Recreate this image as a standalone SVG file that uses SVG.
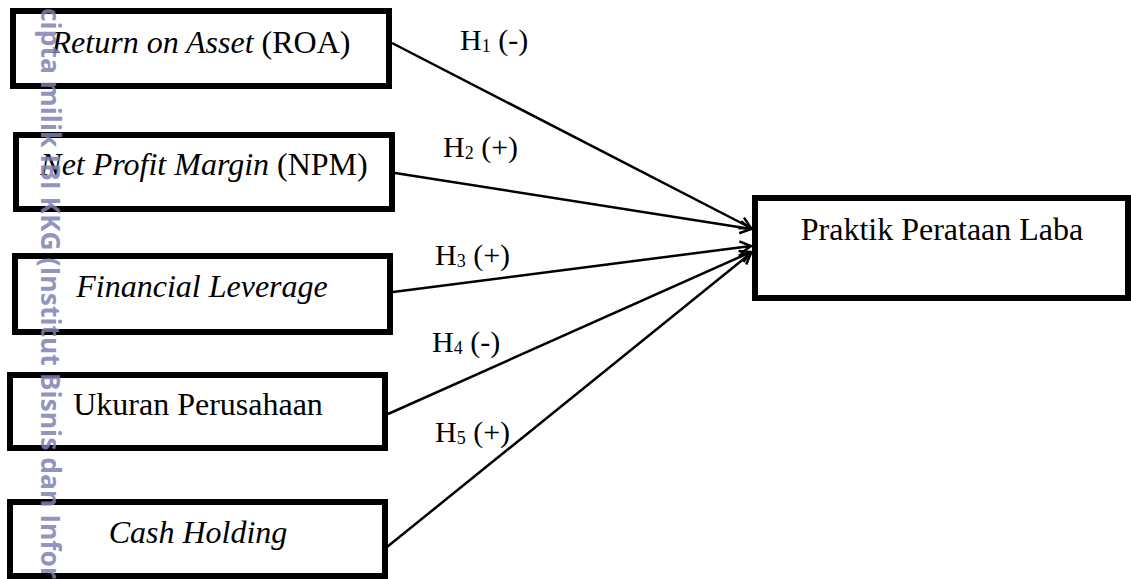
<svg xmlns="http://www.w3.org/2000/svg" width="1131" height="579" viewBox="0 0 1131 579">
  <style>
    .box { fill: #ffffff; stroke: #000000; stroke-width: 6; }
    .lbl { font-family: "Liberation Serif", "Times New Roman", serif; font-size: 32px; fill: #000000; text-anchor: middle; }
    .hyp { font-family: "Liberation Serif", "Times New Roman", serif; font-size: 30px; fill: #000000; }
    .sub { font-size: 18px; }
    .it { font-style: italic; }
    .conn { stroke: #000000; stroke-width: 2.5; fill: none; marker-end: url(#arrow); }
    .wm { font-family: "Open Sans", "DejaVu Sans", sans-serif; font-weight: 700; font-size: 26px; fill: #8080b4; fill-opacity: 0.85; }
  </style>
  <defs>
    <marker id="arrow" markerUnits="userSpaceOnUse" markerWidth="16" markerHeight="16" refX="12" refY="7" orient="auto" viewBox="0 0 16 14">
      <path d="M1,1 L12,7 L1,13" fill="none" stroke="#000000" stroke-width="2.5"/>
    </marker>
  </defs>
  <rect width="1131" height="579" fill="#ffffff"/>

  <g id="connectors">
    <line class="conn" x1="392" y1="43" x2="751" y2="228"/>
    <line class="conn" x1="395" y1="173" x2="751" y2="229"/>
    <line class="conn" x1="393" y1="292" x2="751" y2="246"/>
    <line class="conn" x1="388" y1="414" x2="751" y2="252"/>
    <line class="conn" x1="387" y1="547" x2="751" y2="253"/>
    <text class="hyp" x="460" y="50">H<tspan class="sub" dy="2">1</tspan><tspan dy="-2"> (-)</tspan></text>
    <text class="hyp" x="443" y="157">H<tspan class="sub" dy="2">2</tspan><tspan dy="-2"> (+)</tspan></text>
    <text class="hyp" x="435" y="265">H<tspan class="sub" dy="2">3</tspan><tspan dy="-2"> (+)</tspan></text>
    <text class="hyp" x="432" y="352">H<tspan class="sub" dy="2">4</tspan><tspan dy="-2"> (-)</tspan></text>
    <text class="hyp" x="435" y="442">H<tspan class="sub" dy="2">5</tspan><tspan dy="-2"> (+)</tspan></text>
  </g>

  <g id="node-roa">
    <rect class="box" x="13" y="11" width="376" height="75"/>
    <text class="lbl" x="201" y="53"><tspan class="it">Return on Asset</tspan> (ROA)</text>
  </g>
  <g id="node-npm">
    <rect class="box" x="16" y="135" width="376" height="74"/>
    <text class="lbl" x="204" y="175"><tspan class="it">Net Profit Margin</tspan> (NPM)</text>
  </g>
  <g id="node-fl">
    <rect class="box" x="15" y="256" width="375" height="76"/>
    <text class="lbl it" x="202" y="297">Financial Leverage</text>
  </g>
  <g id="node-size">
    <rect class="box" x="10" y="375" width="375" height="73"/>
    <text class="lbl" x="198" y="415">Ukuran Perusahaan</text>
  </g>
  <g id="node-cash">
    <rect class="box" x="10" y="502" width="375" height="74"/>
    <text class="lbl it" x="198" y="543">Cash Holding</text>
  </g>
  <g id="node-target">
    <rect class="box" x="755" y="198" width="373" height="100"/>
    <text class="lbl" x="942" y="240">Praktik Perataan Laba</text>
  </g>

  <text class="wm" transform="translate(41,8) rotate(90)" textLength="571" lengthAdjust="spacingAndGlyphs">cipta milik IBI KKG (Institut Bisnis dan Infor</text>
</svg>
